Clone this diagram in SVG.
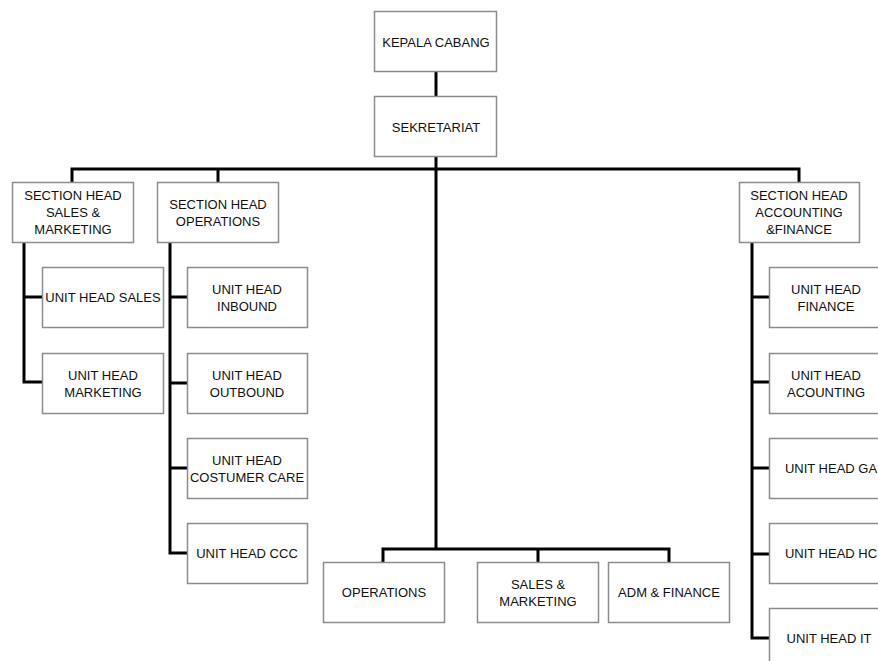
<svg xmlns="http://www.w3.org/2000/svg" width="878" height="661" viewBox="0 0 878 661">
<style>
.box{fill:#fff;stroke:#8c8c8c;stroke-width:1.5}
.t{font-family:"Liberation Sans",Arial,sans-serif;font-size:13px;fill:#111;text-anchor:middle}
.c{fill:none;stroke:#000;stroke-width:3}
</style>
<rect width="878" height="661" fill="#fff"/>
<g id="connectors">
<line class="c" x1="436" y1="72" x2="436" y2="97"/>
<line class="c" x1="436" y1="156" x2="436" y2="549"/>
<path class="c" d="M72,182 V169 H799 V182"/>
<line class="c" x1="218" y1="169" x2="218" y2="182"/>
<path class="c" d="M24,242 V382 H42 M24,297 H42"/>
<path class="c" d="M170,242 V553 H187 M170,297 H187 M170,383 H187 M170,468 H187"/>
<path class="c" d="M752,242 V638 H769 M752,297 H769 M752,382 H769 M752,468 H769 M752,554 H769"/>
<path class="c" d="M383,562 V549 H669 V562 M538,549 V562"/>
</g>
<g id="kepala"><rect class="box" x="374.5" y="11.5" width="122" height="60"/><text class="t" x="436" y="47">KEPALA CABANG</text></g>
<g id="sekretariat"><rect class="box" x="374.5" y="96.5" width="122" height="60"/><text class="t" x="436" y="132">SEKRETARIAT</text></g>
<g id="sh-sales"><rect class="box" x="12.5" y="182.5" width="121" height="60"/><text class="t" x="73" y="200">SECTION HEAD</text><text class="t" x="73" y="217">SALES &amp;</text><text class="t" x="73" y="234">MARKETING</text></g>
<g id="sh-ops"><rect class="box" x="157.5" y="182.5" width="121" height="60"/><text class="t" x="218" y="209">SECTION HEAD</text><text class="t" x="218" y="226">OPERATIONS</text></g>
<g id="sh-acc"><rect class="box" x="739.5" y="182.5" width="120" height="60"/><text class="t" x="799" y="200">SECTION HEAD</text><text class="t" x="799" y="217">ACCOUNTING</text><text class="t" x="799" y="234">&amp;FINANCE</text></g>
<g id="uh-sales"><rect class="box" x="42.5" y="267.5" width="121" height="60"/><text class="t" x="103" y="302">UNIT HEAD SALES</text></g>
<g id="uh-marketing"><rect class="box" x="42.5" y="353.5" width="121" height="60"/><text class="t" x="103" y="380">UNIT HEAD</text><text class="t" x="103" y="397">MARKETING</text></g>
<g id="uh-inbound"><rect class="box" x="187.5" y="267.5" width="120" height="60"/><text class="t" x="247" y="294">UNIT HEAD</text><text class="t" x="247" y="311">INBOUND</text></g>
<g id="uh-outbound"><rect class="box" x="187.5" y="353.5" width="120" height="60"/><text class="t" x="247" y="380">UNIT HEAD</text><text class="t" x="247" y="397">OUTBOUND</text></g>
<g id="uh-cc"><rect class="box" x="187.5" y="438.5" width="120" height="60"/><text class="t" x="247" y="465">UNIT HEAD</text><text class="t" x="247" y="482">COSTUMER CARE</text></g>
<g id="uh-ccc"><rect class="box" x="187.5" y="523.5" width="120" height="60"/><text class="t" x="247" y="558">UNIT HEAD CCC</text></g>
<g id="operations"><rect class="box" x="323.5" y="562.5" width="121" height="60"/><text class="t" x="384" y="597">OPERATIONS</text></g>
<g id="sales-marketing"><rect class="box" x="477.5" y="562.5" width="121" height="60"/><text class="t" x="538" y="589">SALES &amp;</text><text class="t" x="538" y="606">MARKETING</text></g>
<g id="adm-finance"><rect class="box" x="608.5" y="562.5" width="121" height="60"/><text class="t" x="669" y="597">ADM &amp; FINANCE</text></g>
<g id="uh-finance"><rect class="box" x="769.5" y="267.5" width="120" height="60"/><text class="t" x="826" y="294">UNIT HEAD</text><text class="t" x="826" y="311">FINANCE</text></g>
<g id="uh-acounting"><rect class="box" x="769.5" y="353.5" width="120" height="60"/><text class="t" x="826" y="380">UNIT HEAD</text><text class="t" x="826" y="397">ACOUNTING</text></g>
<g id="uh-ga"><rect class="box" x="769.5" y="438.5" width="120" height="60"/><text class="t" x="831" y="473">UNIT HEAD GA</text></g>
<g id="uh-hc"><rect class="box" x="769.5" y="523.5" width="120" height="60"/><text class="t" x="831" y="558">UNIT HEAD HC</text></g>
<g id="uh-it"><rect class="box" x="769.5" y="608.5" width="120" height="60"/><text class="t" x="829" y="643">UNIT HEAD IT</text></g>
</svg>
